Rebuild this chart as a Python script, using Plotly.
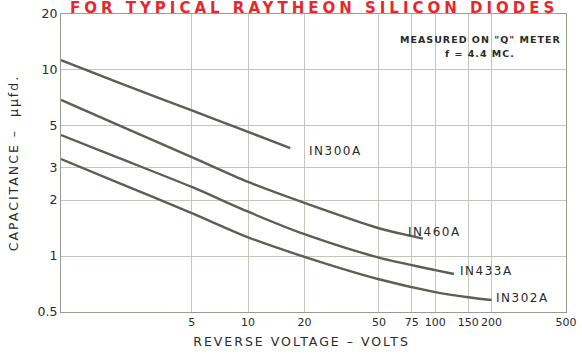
import math
import plotly.graph_objects as go

# ---- data (log-log chart) ----
x_in300a = [1, 2, 5, 10, 16.8]
c_in300a = [11.3, 8.6, 6.07, 4.65, 3.8]

x_in460a = [1, 2, 5, 10, 20, 50, 75, 86]
c_in460a = [6.9, 5.08, 3.4, 2.5, 1.93, 1.41, 1.28, 1.24]

x_in433a = [1, 2, 5, 10, 20, 50, 100, 126]
c_in433a = [4.47, 3.39, 2.35, 1.73, 1.31, 0.98, 0.84, 0.80]

x_in302a = [1, 2, 5, 10, 20, 50, 100, 150, 200]
c_in302a = [3.32, 2.49, 1.70, 1.26, 0.99, 0.75, 0.64, 0.60, 0.58]

series_names = ["IN300A", "IN460A", "IN433A", "IN302A"]
label_pos = [(20.7, 3.66), (70, 1.35), (133, 0.83), (207, 0.594)]

x_ticks = [5, 10, 20, 50, 75, 100, 150, 200, 500]
x_ticktext = ["5", "10", "20", "50", "75", "100", "150", "200", "500"]
y_ticks = [0.5, 1, 2, 3, 5, 10, 20]
y_ticktext = ["0.5", "1", "2", "3", "5", "10", "20"]

LINE = "#5b5f55"
GRID = "#c4c5bc"
TXT = "#2a2a28"
FONT = "DejaVu Sans"

fig = go.Figure()
for xs, cs, nm in zip([x_in300a, x_in460a, x_in433a, x_in302a],
                      [c_in300a, c_in460a, c_in433a, c_in302a], series_names):
    fig.add_trace(go.Scatter(x=xs, y=cs, mode="lines", name=nm,
                             line=dict(color=LINE, width=2.4, shape="spline", smoothing=0.8),
                             showlegend=False, hoverinfo="skip"))

annotations = []
for nm, (lx, ly) in zip(series_names, label_pos):
    annotations.append(dict(x=math.log10(lx), y=math.log10(ly), xref="x", yref="y",
                            text='<span style="letter-spacing:1.5px">%s</span>' % nm,
                            showarrow=False, xanchor="left", yanchor="middle",
                            font=dict(family=FONT, size=12, color=TXT)))

annotations += [
    dict(x=0.83, y=0.916, xref="paper", yref="paper",
         text='<b><span style="letter-spacing:1px">MEASURED ON "Q" METER</span></b>',
         showarrow=False, xanchor="center", yanchor="middle",
         font=dict(family=FONT, size=9.5, color=TXT)),
    dict(x=0.83, y=0.869, xref="paper", yref="paper",
         text='<b><span style="letter-spacing:1px">f = 4.4 MC.</span></b>',
         showarrow=False, xanchor="center", yanchor="middle",
         font=dict(family=FONT, size=9.5, color=TXT)),
    dict(x=0.5, y=1.019, xref="paper", yref="paper",
         text='<b><span style="letter-spacing:4px">FOR TYPICAL RAYTHEON SILICON DIODES</span></b>',
         showarrow=False, xanchor="center", yanchor="middle",
         font=dict(family=FONT, size=15, color="#e8262b")),
]

fig.update_layout(
    width=582, height=355,
    margin=dict(l=61, r=16, t=14, b=43),
    paper_bgcolor="white", plot_bgcolor="white",
    annotations=annotations,
    xaxis=dict(type="log", range=[0, math.log10(500)], automargin=False,
               tickvals=x_ticks, ticktext=x_ticktext, ticks="", tickangle=0,
               showgrid=True, gridcolor=GRID, gridwidth=1,
               showline=True, linecolor="#9a9c92", linewidth=1, mirror=True,
               zeroline=False,
               tickfont=dict(family=FONT, size=11, color=TXT),
               title=dict(text='<span style="letter-spacing:2px">REVERSE VOLTAGE – VOLTS</span>'
                               '&nbsp;&nbsp;&nbsp;&nbsp;&nbsp;&nbsp;',
                          standoff=9,
                          font=dict(family=FONT, size=12.5, color=TXT))),
    yaxis=dict(type="log", range=[math.log10(0.5), math.log10(20)], automargin=False,
               tickvals=y_ticks, ticktext=y_ticktext, ticks="",
               showgrid=True, gridcolor=GRID, gridwidth=1,
               showline=True, linecolor="#9a9c92", linewidth=1, mirror=True,
               zeroline=False,
               tickfont=dict(family=FONT, size=12.5, color=TXT),
               title=dict(text='<span style="letter-spacing:2px">CAPACITANCE –  μμfd.</span>',
                          standoff=16,
                          font=dict(family=FONT, size=12.5, color=TXT))),
)

fig.write_html("out.html", config={"displayModeBar": False},
               post_script="document.body.style.margin='0';document.body.style.overflow='hidden';")
